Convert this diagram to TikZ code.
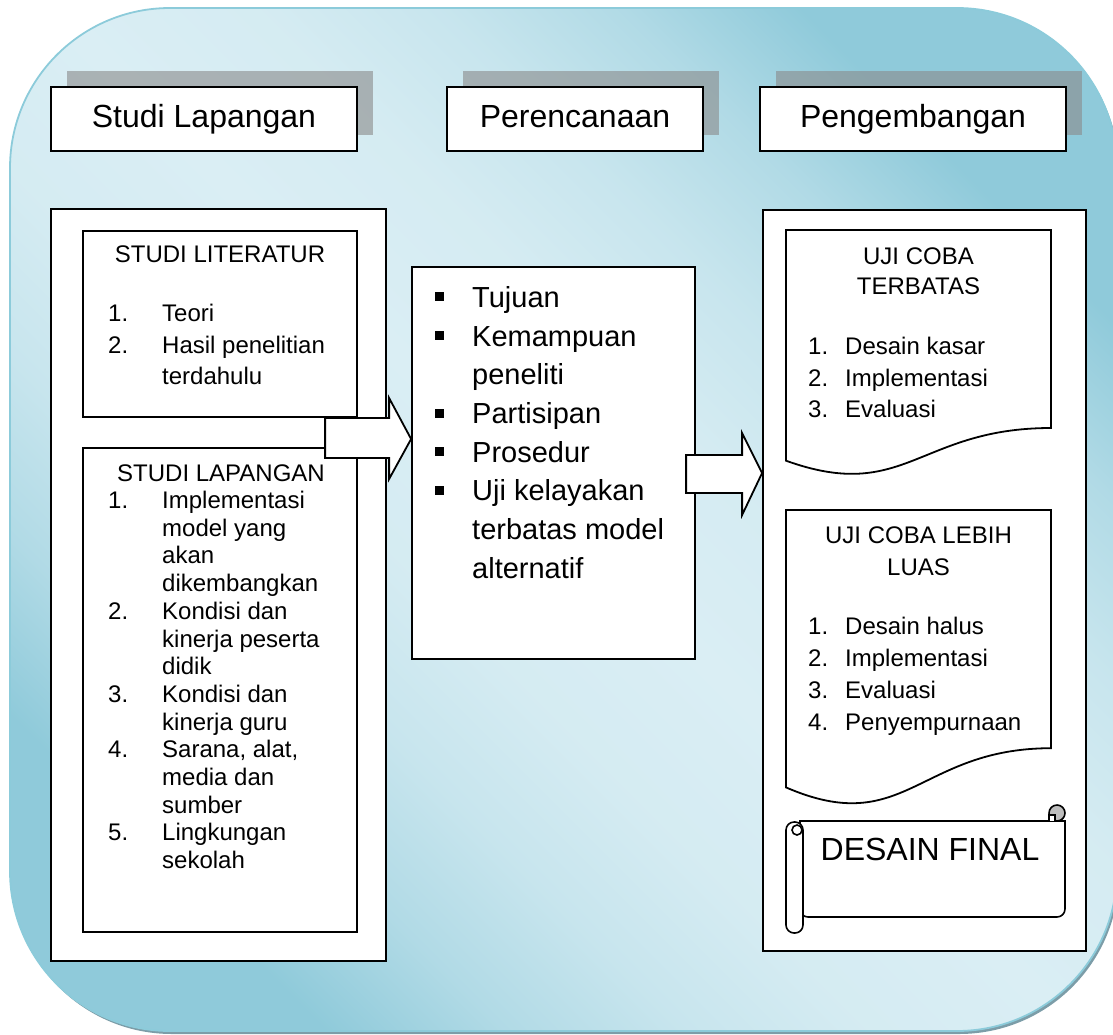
\documentclass[tikz,border=0pt]{standalone}
\usepackage{fontspec}
\setmainfont{Liberation Sans}
\usetikzlibrary{shadows}

\definecolor{bgdark}{HTML}{8FCADA}
\definecolor{bglight}{HTML}{DAEEF4}
\colorlet{bgmidA}{bgdark!55!bglight}
\colorlet{bgmidB}{bgdark!25!bglight}
\colorlet{bgmidC}{bgdark!7!bglight}
\definecolor{bgedge}{HTML}{8CCBDA}
\definecolor{bgshadow}{HTML}{7C9DA8}
\definecolor{tabshadow}{HTML}{8A8A8A}
\definecolor{curlgray}{HTML}{BDBDBD}

% diagonal backdrop gradient: dark at two corners, light across the middle
\pgfdeclareverticalshading{bgdiag}{100bp}{color(0bp)=(bgdark); color(25bp)=(bgdark);
  color(31bp)=(bgmidA); color(37bp)=(bgmidB); color(43bp)=(bgmidC);
  color(50bp)=(bglight);
  color(57bp)=(bgmidC); color(63bp)=(bgmidB); color(69bp)=(bgmidA);
  color(75bp)=(bgdark); color(100bp)=(bgdark)}

\newcommand\hdrsize{\fontsize{32}{38}\selectfont}
\newcommand\litsize{\fontsize{24}{31.5}\selectfont}
\newcommand\lapsize{\fontsize{24}{27.7}\selectfont}
\newcommand\plansize{\fontsize{29}{38.7}\selectfont}
\newcommand\docAsize{\fontsize{24}{30}\selectfont}
\newcommand\docBsize{\fontsize{24}{31.5}\selectfont}
\newcommand\docCsize{\fontsize{24}{32}\selectfont}
\newcommand\sqbullet{\rule[6pt]{9pt}{9pt}}

\begin{document}
\begin{tikzpicture}[x=1pt,y=-1pt,
  panel/.style={draw=black, line width=1.8pt, fill=white, inner sep=0pt},
  hdrtab/.style={panel, minimum height=64pt, font=\hdrsize,
    text height=24pt, text depth=7pt,
    drop shadow={shadow xshift=16pt, shadow yshift=16pt, fill=tabshadow, opacity=0.6}},
  listtxt/.style={inner sep=0pt, anchor=base west},
  titletxt/.style={inner sep=0pt, anchor=base},
  blockarrow/.style={draw=black, line width=1.8pt, fill=white, line join=miter},
  scrollpart/.style={draw=black, line width=1.6pt, fill=white}]

\useasboundingbox (0,0) rectangle (1113,1034);

% rounded backdrop with its soft shadow
\fill[bgshadow, rounded corners=160pt] (12,11) rectangle (1119,1034);
\shade[shading=bgdiag, shading angle=-45, draw=bgedge, line width=1.8pt,
       rounded corners=160pt]
  (10,8) rectangle (1117,1031);

% stage headers
\node[hdrtab, minimum width=306pt] (hdr1) at (204,119) {Studi Lapangan};
\node[hdrtab, minimum width=256pt] (hdr2) at (575,119) {Perencanaan};
\node[hdrtab, minimum width=306pt] (hdr3) at (913,119) {Pengembangan};

% left column
\node[panel, minimum width=335pt, minimum height=752pt] (leftpanel) at (218.5,585) {};
\node[panel, minimum width=274pt, minimum height=186pt] (litbox) at (220,324) {};
\node[panel, minimum width=274pt, minimum height=484pt] (lapbox) at (220,690) {};

\node[titletxt, font=\litsize] (littitle) at (220,262.5) {STUDI LITERATUR};
\node[listtxt, font=\litsize] (litlist) at (108,321.5)
  {\begin{tabular}[t]{@{}p{54pt}@{}l@{}}
   1. & Teori\\
   2. & Hasil penelitian\\
      & terdahulu
   \end{tabular}};

\node[titletxt, font=\lapsize] (laptitle) at (221,481.5) {STUDI LAPANGAN};
\node[listtxt, font=\lapsize] (laplist) at (108,508.5)
  {\begin{tabular}[t]{@{}p{54pt}@{}l@{}}
   1. & Implementasi\\
      & model yang\\
      & akan\\
      & dikembangkan\\
   2. & Kondisi dan\\
      & kinerja peserta\\
      & didik\\
   3. & Kondisi dan\\
      & kinerja guru\\
   4. & Sarana, alat,\\
      & media dan\\
      & sumber\\
   5. & Lingkungan\\
      & sekolah
   \end{tabular}};

% middle column
\node[panel, minimum width=283pt, minimum height=392pt] (plan) at (553.5,463) {};
\node[listtxt, font=\plansize] (planlist) at (435,307.4)
  {\begin{tabular}[t]{@{}p{37pt}@{}l@{}}
   \sqbullet & Tujuan\\
   \sqbullet & Kemampuan\\
             & peneliti\\
   \sqbullet & Partisipan\\
   \sqbullet & Prosedur\\
   \sqbullet & Uji kelayakan\\
             & terbatas model\\
             & alternatif
   \end{tabular}};

% right column
\node[panel, minimum width=323pt, minimum height=741pt] (rightpanel) at (924.5,580.5) {};

% limited trial (document shape)
\draw[panel] (786,230) -- (1051,230) -- (1051,428)
  .. controls (918.5,428) and (905,503.5) .. (786,460.7) -- cycle;
\node[titletxt, font=\docAsize] (doc1title) at (918.5,264.5)
  {\begin{tabular}[t]{@{}c@{}}UJI COBA\\TERBATAS\end{tabular}};
\node[listtxt, font=\docBsize] (doc1list) at (808,354.5)
  {\begin{tabular}[t]{@{}p{37pt}@{}l@{}}
   1. & Desain kasar\\
   2. & Implementasi\\
   3. & Evaluasi
   \end{tabular}};

% wider trial (document shape)
\draw[panel] (786,510) -- (1051,510) -- (1051,748.2)
  .. controls (918.5,748.2) and (905,838.9) .. (786,787.4) -- cycle;
\node[titletxt, font=\docBsize] (doc2title) at (918.5,543.5)
  {\begin{tabular}[t]{@{}c@{}}UJI COBA LEBIH\\LUAS\end{tabular}};
\node[listtxt, font=\docCsize] (doc2list) at (808,634.5)
  {\begin{tabular}[t]{@{}p{37pt}@{}l@{}}
   1. & Desain halus\\
   2. & Implementasi\\
   3. & Evaluasi\\
   4. & Penyempurnaan
   \end{tabular}};

% final design scroll
\draw[scrollpart] (800,821) -- (1065,821) [rounded corners=8pt] -- (1065,917)
  -- (800,917) [sharp corners] -- cycle;
\draw[scrollpart, fill=curlgray] (1057,813) circle (8);
\draw[scrollpart] (1049,821) -- (1049,815) -- (1055,815) -- (1055,821);
\draw[scrollpart, rounded corners=8pt] (786,822) rectangle (803,933);
\draw[scrollpart] (797,830) circle (5);
\node[titletxt, font=\hdrsize] (final) at (930,860) {DESAIN FINAL};

% block arrows between the columns
\coordinate (tip1) at (plan.west |- 0,439);
\coordinate (tip2) at (rightpanel.west |- 0,473);
\draw[blockarrow] (tip1) -- ++(-22,-41) -- ++(0,20) -- ++(-64,0) -- ++(0,40)
  -- ++(64,0) -- ++(0,21) -- cycle;
\draw[blockarrow] (tip2) -- ++(-20,-40) -- ++(0,22) -- ++(-56,0) -- ++(0,38)
  -- ++(56,0) -- ++(0,22) -- cycle;
\end{tikzpicture}
\end{document}
